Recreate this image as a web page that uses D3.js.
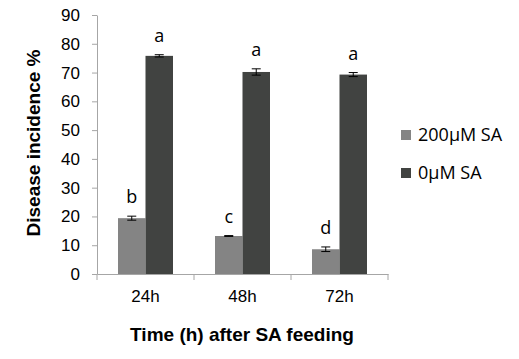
<!DOCTYPE html>
<html>
<head>
<meta charset="utf-8">
<script src="https://cdn.jsdelivr.net/npm/d3@7"></script>
<style>
    body { margin: 0; background: #fff; }
    svg { display: block; }
</style>
</head>
<body>
<svg id="chart" width="519" height="359"></svg>
<script>
const categories = ['24h', '48h', '72h'];
const seriesNames = ['200µM SA', '0µM SA'];
const sa200 = [19.4, 13.2, 8.6];
const sa0 = [75.8, 70.2, 69.3];
const err200 = [0.7, 0.15, 0.8];
const err0 = [0.4, 1.1, 0.7];
const letters200 = ['b', 'c', 'd'];
const letters0 = ['a', 'a', 'a'];
const yTicks = [0, 10, 20, 30, 40, 50, 60, 70, 80, 90];

const COLORS = ['#848484', '#414341'];
const AXIS_COLOR = '#a6a6a6';
const LABEL_FONT = '"Liberation Sans", Arial, sans-serif';
const NOTE_FONT = '"Open Sans", sans-serif';

const svg = d3.select('#chart');

const x0 = d3.scaleBand()
    .domain(categories)
    .range([97, 388])
    .paddingInner(0.433)
    .paddingOuter(0.2165);
const x1 = d3.scaleBand()
    .domain(seriesNames)
    .range([0, x0.bandwidth()]);
const y = d3.scaleLinear()
    .domain([0, 90])
    .range([274, 15]);

const rows = categories.map((cat, i) => ({
    cat,
    bars: [
        { name: seriesNames[0], value: sa200[i], err: err200[i], letter: letters200[i], color: COLORS[0] },
        { name: seriesNames[1], value: sa0[i], err: err0[i], letter: letters0[i], color: COLORS[1] },
    ],
}));

// y axis
const yAxis = svg.append('g')
    .attr('transform', `translate(${x0.range()[0]},0)`)
    .call(d3.axisLeft(y).tickValues(yTicks).tickSize(5).tickPadding(12).tickSizeOuter(0));
yAxis.select('.domain').attr('stroke', AXIS_COLOR);
yAxis.selectAll('.tick line').attr('stroke', AXIS_COLOR);
yAxis.selectAll('.tick text')
    .attr('font-family', LABEL_FONT)
    .attr('font-size', 17)
    .attr('fill', '#000');

// x axis: labels under bands, ticks on band edges
const xAxis = svg.append('g')
    .attr('transform', `translate(0,${y(0)})`)
    .call(d3.axisBottom(x0).tickSize(0).tickPadding(16).tickSizeOuter(0));
xAxis.select('.domain').attr('stroke', AXIS_COLOR);
xAxis.selectAll('.tick text')
    .attr('font-family', LABEL_FONT)
    .attr('font-size', 17)
    .attr('fill', '#000');

const edges = categories.map((c) => x0(c) - x0.step() * x0.paddingOuter());
edges.push(x0.range()[1]);
xAxis.selectAll('line.edge')
    .data(edges)
    .join('line')
    .attr('class', 'edge')
    .attr('x1', (d) => d)
    .attr('x2', (d) => d)
    .attr('y1', 0)
    .attr('y2', 6)
    .attr('stroke', AXIS_COLOR);

// bars
const groups = svg.append('g')
    .selectAll('g')
    .data(rows)
    .join('g')
    .attr('transform', (d) => `translate(${x0(d.cat)},0)`);

groups.selectAll('rect')
    .data((d) => d.bars)
    .join('rect')
    .attr('x', (d) => x1(d.name))
    .attr('y', (d) => y(d.value))
    .attr('width', x1.bandwidth())
    .attr('height', (d) => y(0) - y(d.value))
    .attr('fill', (d) => d.color);

// error bars
const errG = groups.selectAll('g.err')
    .data((d) => d.bars)
    .join('g')
    .attr('class', 'err')
    .attr('transform', (d) => `translate(${x1(d.name) + x1.bandwidth() / 2},0)`)
    .attr('stroke', '#000')
    .attr('stroke-width', 1);
errG.append('line')
    .attr('y1', (d) => y(d.value + d.err))
    .attr('y2', (d) => y(d.value - d.err));
errG.append('line')
    .attr('x1', -4.5).attr('x2', 4.5)
    .attr('y1', (d) => y(d.value + d.err))
    .attr('y2', (d) => y(d.value + d.err));
errG.append('line')
    .attr('x1', -4.5).attr('x2', 4.5)
    .attr('y1', (d) => y(d.value - d.err))
    .attr('y2', (d) => y(d.value - d.err));

// significance letters
groups.selectAll('text.letter')
    .data((d) => d.bars)
    .join('text')
    .attr('class', 'letter')
    .attr('x', (d) => x1(d.name) + x1.bandwidth() / 2)
    .attr('y', (d) => y(d.value + d.err) - 13)
    .attr('text-anchor', 'middle')
    .attr('font-family', NOTE_FONT)
    .attr('font-size', 18)
    .attr('fill', '#000')
    .text((d) => d.letter);

// axis titles
svg.append('text')
    .attr('transform', 'translate(40,143) rotate(-90)')
    .attr('text-anchor', 'middle')
    .attr('font-family', LABEL_FONT)
    .attr('font-weight', 'bold')
    .attr('font-size', 19)
    .attr('fill', '#000')
    .text('Disease incidence %');

svg.append('text')
    .attr('x', 242)
    .attr('y', 341)
    .attr('text-anchor', 'middle')
    .attr('font-family', LABEL_FONT)
    .attr('font-weight', 'bold')
    .attr('font-size', 19)
    .attr('fill', '#000')
    .text('Time (h) after SA feeding');

// legend
const legend = svg.append('g')
    .selectAll('g')
    .data(seriesNames)
    .join('g')
    .attr('transform', (d, i) => `translate(401,${135 + i * 38})`);
legend.append('rect')
    .attr('x', 0)
    .attr('y', -5)
    .attr('width', 10)
    .attr('height', 10)
    .attr('fill', (d, i) => COLORS[i]);
legend.append('text')
    .attr('x', 17)
    .attr('y', 0)
    .attr('dy', '0.35em')
    .attr('font-family', NOTE_FONT)
    .attr('font-size', 18)
    .attr('fill', '#000')
    .text((d) => d);
</script>
</body>
</html>
